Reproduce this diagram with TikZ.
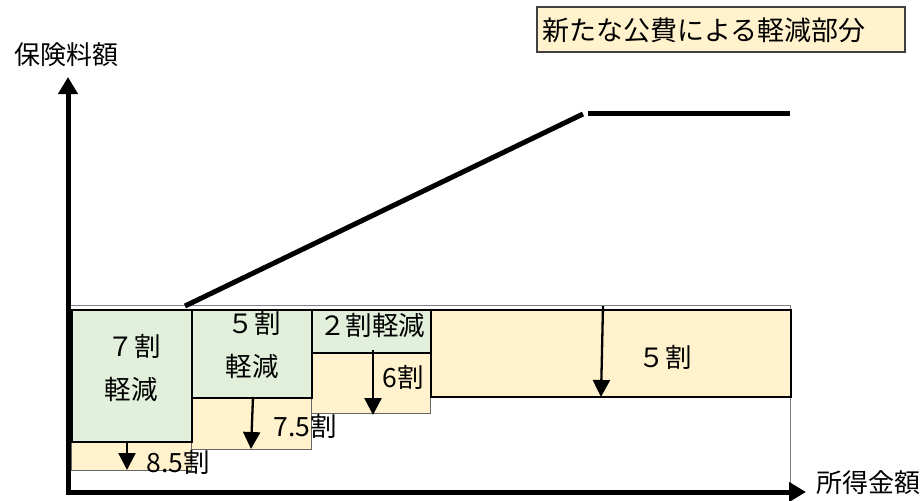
\documentclass[tikz,border=0pt]{standalone}
\usepackage{fontspec}
\setmainfont{Noto Sans CJK JP}
\usetikzlibrary{arrows.meta}
\definecolor{grn}{HTML}{E2EFDA}
\definecolor{crm}{HTML}{FFF2CC}
\begin{document}
\begin{tikzpicture}[x=1pt,y=-1pt,
  lbl/.style={font=\fontsize{26.5}{28}\selectfont, inner sep=0pt},
  axlbl/.style={font=\fontsize{26}{28}\selectfont, inner sep=0pt},
  greenbox/.style={draw=black, line width=2pt, fill=grn, inner sep=0pt, anchor=north west},
  creambox/.style={draw=black!60, line width=0.8pt, fill=crm, inner sep=0pt, anchor=north west},
  downarrow/.style={line width=2.3pt, -{Triangle[width=17pt,length=17pt]}},
  axisline/.style={line width=5pt, -{Triangle[width=19pt,length=17pt]}},
  incline/.style={line width=5pt}
  ]
\useasboundingbox (0,0) rectangle (922,501);
% cut-off title
\node[font=\fontsize{30}{32}\selectfont, inner sep=0pt, anchor=base west] (title) at (38,-6) {【軽減イメージ】};
% frame
\draw[black!50, line width=0.8pt] (70,305) rectangle (790,490);
% cream parts
\node[creambox, minimum width=120pt, minimum height=29pt] (c7) at (71,441) {};
\node[creambox, minimum width=120pt, minimum height=52pt] (c5) at (191,397) {};
\node[creambox, minimum width=119pt, minimum height=61pt] (c2) at (311,352) {};
\node[creambox, draw=black, line width=1.5pt, minimum width=360pt, minimum height=87pt] (cb) at (430,309) {};
% green parts
\node[greenbox, minimum width=120pt, minimum height=132pt] (g7) at (71,309) {};
\node[greenbox, minimum width=120pt, minimum height=88pt] (g5) at (191,309) {};
\node[greenbox, minimum width=119pt, minimum height=43pt] (g2) at (311,309) {};
% arrows
\coordinate (a7s) at (127,441); \coordinate (a7e) at (127,470);
\coordinate (a5s) at (253,397); \coordinate (a5e) at (251,449);
\coordinate (a2s) at (373,350); \coordinate (a2e) at (373,415);
\coordinate (abs) at (603,306); \coordinate (abe) at (601,397);
\draw[downarrow] (a7s) -- (a7e);
\draw[downarrow] (a5s) -- (a5e);
\draw[downarrow] (a2s) -- (a2e);
\draw[downarrow] (abs) -- (abe);
% premium line
\coordinate (p0) at (185,306);
\coordinate (p1) at (583,114);
\coordinate (p2) at (588,113);
\coordinate (p3) at (790,113);
\draw[incline] (p0) -- (p1);
\draw[incline] (p2) -- (p3);
% axes
\coordinate (ybase) at (68,494);
\coordinate (xbase) at (66,492);
\coordinate (ytip) at (68,77);
\coordinate (xtip) at (806,492);
\draw[axisline] (ybase) -- (ytip);
\draw[axisline] (xbase) -- (xtip);
% labels
\node[lbl] (t7a) at (134,346) {７割};
\node[lbl] (t7b) at (131,389) {軽減};
\node[lbl] (t5a) at (254,323) {５割};
\node[lbl] (t5b) at (252,366) {軽減};
\node[lbl] (t2) at (372,325) {２割軽減};
\node[lbl] (t6) at (403,377) {6割};
\node[lbl] (t75) at (305,426) {7.5割};
\node[lbl] (t85) at (178,462) {8.5割};
\node[lbl] (tb) at (665,357) {５割};
\node[axlbl] (ylab) at (67,55) {保険料額};
\node[axlbl] (xlab) at (868,483) {所得金額};
\node[draw=black!75, line width=1.2pt, fill=crm, minimum width=368pt, minimum height=45pt, inner sep=0pt] (legend) at (721,29.5) {};
\node[axlbl, font=\fontsize{27}{29}\selectfont] (legtext) at (704,30) {新たな公費による軽減部分};
\end{tikzpicture}
\end{document}
